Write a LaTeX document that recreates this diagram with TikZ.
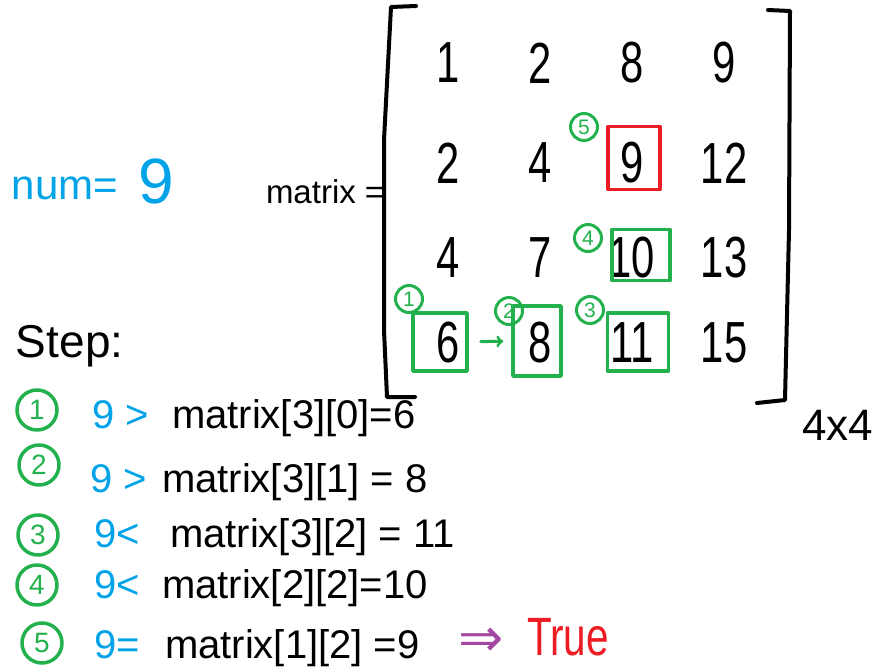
\documentclass[tikz,border=0pt]{standalone}
\usepackage{fontspec}
\setmainfont{Liberation Sans}
\newfontfamily\symfont{DejaVu Sans}
\usetikzlibrary{positioning}
\definecolor{pblue}{RGB}{0,162,232}
\definecolor{pgreen}{RGB}{34,177,76}
\definecolor{pred}{RGB}{237,28,36}
\definecolor{ppurple}{RGB}{163,73,164}
\newcommand{\narrow}[1]{\scalebox{0.72}[1]{#1}}
\tikzset{
  ent/.style={font=\fontsize{58}{58}\selectfont, inner sep=0pt},
  hitbox/.style={draw=pgreen, line width=3.5pt, inner sep=0pt},
  foundbox/.style={draw=pred, line width=3.5pt, inner sep=0pt},
  tag/.style={circle, draw=pgreen, text=pgreen, line width=3pt,
    minimum size=27pt, inner sep=0pt, font=\fontsize{21}{21}\selectfont},
  stepc/.style={circle, draw=pgreen, text=pgreen, line width=3.5pt,
    minimum size=40pt, inner sep=0pt, font=\fontsize{28}{28}\selectfont},
  stxt/.style={font=\fontsize{40}{40}\selectfont, inner sep=0pt, anchor=base west},
  btxt/.style={stxt, text=pblue}
}

\begin{document}
\begin{tikzpicture}[x=1pt,y=-1pt,line width=4pt,line cap=round,line join=round]
    \useasboundingbox (0,0) rectangle (881,671);

    % num and matrix name
    \node[text=pblue, font=\fontsize{42}{42}\selectfont, inner sep=0pt,
        anchor=base west] (num) at (10,200) {num=};
    \node[text=pblue, font=\fontsize{64}{64}\selectfont, inner sep=0pt,
        anchor=base west] (numv) at (136,204) {9};
    \node[font=\fontsize{33}{33}\selectfont, inner sep=0pt,
        anchor=base west] (mname) at (264,204) {matrix =};

    % brackets
    \draw (416,6) -- (391,7) -- (384,140) -- (384,330) -- (387,397) -- (415,397);
    \draw (768,10) -- (790,11) -- (789,230) -- (785,400) -- (757,403);
    \node[font=\fontsize{44}{44}\selectfont, inner sep=0pt,
        anchor=base west] (size) at (800,440) {4x4};

    % entries
    \foreach \r/\y/\vals in {0/63/{1,2,8,9}, 1/163/{2,4,9,12},
                             2/258/{4,7,10,13}, 3/343/{6,8,11,15}}
        \foreach \v [count=\c from 0] in \vals
            \node[ent] (m-\r-\c) at ({448+92*\c},\y) {\narrow{\v}};

    % visited cells
    \node[hitbox, minimum width=54pt, minimum height=58pt] (b1) at (440,342) {};
    \node[hitbox, minimum width=48pt, minimum height=70pt] (b2) at (537,341) {};
    \node[hitbox, minimum width=61pt, minimum height=58pt] (b3) at (638,342) {};
    \node[hitbox, minimum width=58pt, minimum height=51pt] (b4) at (641,255) {};
    \node[foundbox, minimum width=52pt, minimum height=63pt] (b5) at (634,158) {};
    \draw[->, pgreen, line width=3pt, shorten <=12pt, shorten >=8pt] (b1) -- (b2);

    \node[tag] (c1) at (409,299) {1};
    \node[tag] (c2) at (509,311) {2};
    \node[tag] (c3) at (590,310) {3};
    \node[tag] (c4) at (588,238) {4};
    \node[tag] (c5) at (584,127) {5};

    % steps
    \node[font=\fontsize{46}{46}\selectfont, inner sep=0pt,
        anchor=base west] (step) at (14,357) {Step:};

    \node[stepc] (s1) at (37,410) {1};
    \node[btxt] (v1) at (90,428) {9 >};
    \node[stxt] (t1) at (170,428) {matrix[3][0]=6};

    \node[stepc] (s2) at (39,465) {2};
    \node[btxt] (v2) at (88,492) {9 >};
    \node[stxt] (t2) at (160,492) {matrix[3][1] = 8};

    \node[stepc] (s3) at (38,535) {3};
    \node[btxt] (v3) at (92,547) {9<};
    \node[stxt] (t3) at (168,547) {matrix[3][2] = 11};

    \node[stepc] (s4) at (37,585) {4};
    \node[btxt] (v4) at (92,598) {9<};
    \node[stxt] (t4) at (160,598) {matrix[2][2]=10};

    \node[stepc] (s5) at (42,643) {5};
    \node[btxt] (v5) at (92,658) {9=};
    \node[stxt] (t5) at (163,658) {matrix[1][2]  =9};
    \node[text=ppurple, font=\symfont\fontsize{54}{54}\selectfont, inner sep=0pt,
        anchor=base west] (impl) at (456,656) {⇒};
    \node[text=pred, font=\fontsize{54}{54}\selectfont, inner sep=0pt,
        anchor=base west] (res) at (525,655) {\scalebox{0.75}[1]{True}};
\end{tikzpicture}
\end{document}
